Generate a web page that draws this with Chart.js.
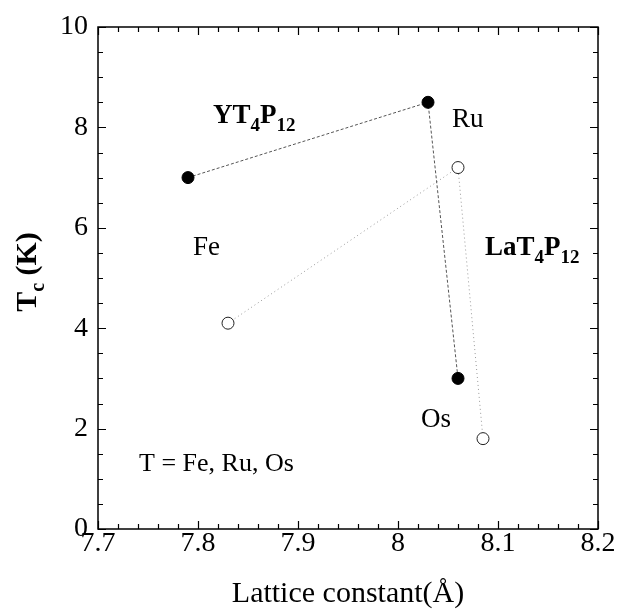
<!DOCTYPE html>
<html>
<head>
<meta charset="utf-8">
<script src="https://cdn.jsdelivr.net/npm/chart.js@4.4.1/dist/chart.umd.min.js"></script>
<style>
  html, body { margin: 0; padding: 0; background: #fff; }
</style>
</head>
<body>
<canvas id="tcChart" width="620" height="613"></canvas>
<script>
// Tc vs lattice constant for the skutterudites, T = Fe, Ru, Os
const elements = ['Fe', 'Ru', 'Os'];
const yLattice = [7.79, 8.03, 8.06];
const yTc = [7.0, 8.5, 3.0];
const laLattice = [7.83, 8.06, 8.085];
const laTc = [4.1, 7.2, 1.8];

const xTicks = [7.7, 7.8, 7.9, 8.0, 8.1, 8.2];
const xTickLabels = ['7.7', '7.8', '7.9', '8', '8.1', '8.2'];
const yTicks = [0, 2, 4, 6, 8, 10];
const yTickLabels = ['0', '2', '4', '6', '8', '10'];

const SERIF = '"Liberation Serif", "DejaVu Serif", serif';

// text placed in the plot: [parts, x, y, size, bold]; parts are [text, isSubscript]
const notes = [
  [[['YT', false], ['4', true], ['P', false], ['12', true]], 7.815, 8.09, 27, true],
  [[['LaT', false], ['4', true], ['P', false], ['12', true]], 8.087, 5.46, 27, true],
  [[[elements[0], false]], 7.795, 5.46, 27, false],
  [[[elements[1], false]], 8.054, 8.01, 27, false],
  [[[elements[2], false]], 8.023, 2.03, 27, false],
  [[['T = ' + elements.join(', '), false]], 7.741, 1.155, 26, false]
];

function drawRich(ctx, parts, x, y, size, bold) {
  parts.forEach(([txt, isSub]) => {
    const fs = isSub ? Math.round(size * 0.7) : size;
    ctx.font = (bold ? 'bold ' : '') + fs + 'px ' + SERIF;
    ctx.fillText(txt, x, y + (isSub ? size * 0.3 : 0));
    x += ctx.measureText(txt).width;
  });
}

const framePlugin = {
  id: 'frameAndNotes',
  afterDraw(chart) {
    const { ctx, chartArea: a, scales: { x, y } } = chart;
    ctx.save();

    // minor / major ticks pointing inward on all four sides
    ctx.strokeStyle = '#000';
    ctx.lineWidth = 1.2;
    ctx.beginPath();
    for (let i = 0; i <= 25; i++) {
      const px = Math.round(x.getPixelForValue(7.7 + i * 0.02)) + 0.5;
      const len = i % 5 === 0 ? 8 : 5;
      ctx.moveTo(px, a.bottom); ctx.lineTo(px, a.bottom - len);
      ctx.moveTo(px, a.top); ctx.lineTo(px, a.top + len);
    }
    for (let i = 0; i <= 20; i++) {
      const py = Math.round(y.getPixelForValue(i * 0.5)) + 0.5;
      const len = i % 4 === 0 ? 8 : 5;
      ctx.moveTo(a.left, py); ctx.lineTo(a.left + len, py);
      ctx.moveTo(a.right, py); ctx.lineTo(a.right - len, py);
    }
    ctx.stroke();

    ctx.lineWidth = 1.5;
    ctx.strokeRect(a.left, a.top, a.right - a.left, a.bottom - a.top);

    // labels inside the plot
    ctx.fillStyle = '#000';
    ctx.textAlign = 'left';
    ctx.textBaseline = 'alphabetic';
    notes.forEach(([parts, vx, vy, size, bold]) => {
      drawRich(ctx, parts, x.getPixelForValue(vx), y.getPixelForValue(vy), size, bold);
    });

    // y axis title with subscript c
    ctx.translate(36, (a.top + a.bottom) / 2 - 6);
    ctx.rotate(-Math.PI / 2);
    ctx.font = 'bold 30px ' + SERIF;
    const w1 = ctx.measureText('T').width;
    const w3 = ctx.measureText(' (K)').width;
    ctx.font = 'bold 20px ' + SERIF;
    const w2 = ctx.measureText('c').width;
    const x0 = -(w1 + w2 + w3) / 2;
    ctx.font = 'bold 30px ' + SERIF;
    ctx.fillText('T', x0, 0);
    ctx.font = 'bold 20px ' + SERIF;
    ctx.fillText('c', x0 + w1, 8);
    ctx.font = 'bold 30px ' + SERIF;
    ctx.fillText(' (K)', x0 + w1 + w2, 0);
    ctx.restore();
  }
};

new Chart(document.getElementById('tcChart').getContext('2d'), {
  type: 'scatter',
  data: {
    datasets: [
      {
        label: 'YT4P12',
        data: yLattice.map((v, i) => ({ x: v, y: yTc[i] })),
        showLine: true,
        borderColor: '#555',
        borderWidth: 1,
        borderDash: [3, 2],
        pointRadius: 6,
        pointBackgroundColor: '#000',
        pointBorderColor: '#000',
        pointBorderWidth: 1
      },
      {
        label: 'LaT4P12',
        data: laLattice.map((v, i) => ({ x: v, y: laTc[i] })),
        showLine: true,
        borderColor: '#999',
        borderWidth: 1,
        borderDash: [1, 3],
        pointRadius: 6,
        pointBackgroundColor: '#fff',
        pointBorderColor: '#222',
        pointBorderWidth: 1
      }
    ]
  },
  options: {
    responsive: false,
    animation: false,
    layout: { padding: { top: 27, right: 22, left: 0, bottom: 0 } },
    plugins: { legend: { display: false }, tooltip: { enabled: false } },
    scales: {
      x: {
        type: 'linear',
        min: 7.7,
        max: 8.2,
        afterBuildTicks: s => { s.ticks = xTicks.map(v => ({ value: v })); },
        afterFit: s => { s.height = 84; },
        grid: { display: false },
        border: { display: false },
        ticks: {
          color: '#000',
          font: { family: SERIF, size: 28 },
          padding: -10,
          maxRotation: 0,
          autoSkip: false,
          callback: (v, i) => xTickLabels[i]
        },
        title: {
          display: true,
          text: 'Lattice constant(Å)',
          color: '#000',
          font: { family: SERIF, size: 30 },
          padding: { top: 0, bottom: 1 }
        }
      },
      y: {
        type: 'linear',
        min: 0,
        max: 10,
        afterBuildTicks: s => { s.ticks = yTicks.map(v => ({ value: v })); },
        afterFit: s => { s.width = 98; },
        grid: { display: false },
        border: { display: false },
        ticks: {
          color: '#000',
          font: { family: SERIF, size: 28 },
          padding: 2,
          autoSkip: false,
          callback: (v, i) => yTickLabels[i]
        }
      }
    }
  },
  plugins: [framePlugin]
});
</script>
</body>
</html>
